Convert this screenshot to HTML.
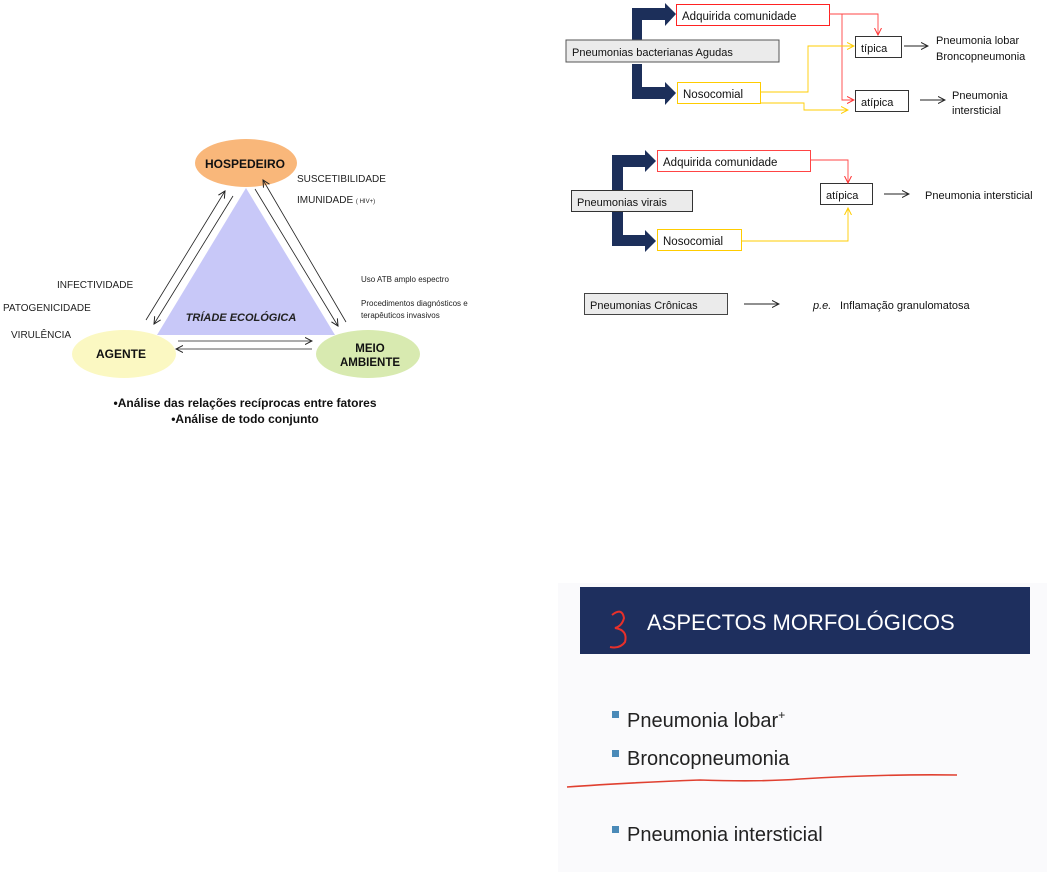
<!DOCTYPE html>
<html><head><meta charset="utf-8"><style>
html,body{margin:0;padding:0;background:#fff;width:1047px;height:872px;overflow:hidden}
svg{display:block}
text{font-family:"Liberation Sans",sans-serif}
</style></head><body>
<svg width="1047" height="872" viewBox="0 0 1047 872" xmlns="http://www.w3.org/2000/svg">
<defs>
<marker id="ab" markerWidth="8" markerHeight="8" refX="7" refY="4" orient="auto" markerUnits="userSpaceOnUse"><path d="M0,0.5 L7,4 L0,7.5" fill="none" stroke="#222" stroke-width="1"/></marker>
<marker id="ar" markerWidth="8" markerHeight="8" refX="7" refY="4" orient="auto" markerUnits="userSpaceOnUse"><path d="M0,0.5 L7,4 L0,7.5" fill="none" stroke="#f33" stroke-width="1"/></marker>
<marker id="ay" markerWidth="8" markerHeight="8" refX="7" refY="4" orient="auto" markerUnits="userSpaceOnUse"><path d="M0,0.5 L7,4 L0,7.5" fill="none" stroke="#fc0" stroke-width="1"/></marker>
</defs>

<!-- Left triad -->
<polygon points="246,188 157,335 335,335" fill="#c8c8f8"/>
<ellipse cx="246" cy="163" rx="51" ry="24" fill="#f9b77a"/>
<ellipse cx="124" cy="354" rx="52" ry="24" fill="#fbf8c2"/>
<ellipse cx="368" cy="354" rx="52" ry="24" fill="#d8eab0"/>
<text x="245" y="168" font-size="12" font-weight="bold" text-anchor="middle" fill="#111">HOSPEDEIRO</text>
<text x="121" y="358" font-size="12" font-weight="bold" text-anchor="middle" fill="#111">AGENTE</text>
<text x="370" y="352" font-size="11.5" font-weight="bold" text-anchor="middle" fill="#111">MEIO</text>
<text x="370" y="366" font-size="11.5" font-weight="bold" text-anchor="middle" fill="#111">AMBIENTE</text>
<text x="241" y="321" font-size="11" font-weight="bold" font-style="italic" text-anchor="middle" fill="#222">TRÍADE ECOLÓGICA</text>
<text x="297" y="182" font-size="10" fill="#222">SUSCETIBILIDADE</text>
<text x="297" y="203" font-size="10" fill="#222">IMUNIDADE <tspan font-size="6">( HIV+)</tspan></text>
<text x="57" y="288" font-size="10" fill="#222">INFECTIVIDADE</text>
<text x="3" y="311" font-size="10" fill="#222">PATOGENICIDADE</text>
<text x="11" y="338" font-size="10" fill="#222">VIRULÊNCIA</text>
<text x="361" y="282" font-size="8" fill="#222">Uso ATB amplo espectro</text>
<text x="361" y="306" font-size="8" fill="#222">Procedimentos  diagnósticos e</text>
<text x="361" y="318" font-size="8" fill="#222">terapêuticos invasivos</text>
<g stroke="#222" stroke-width="0.8" fill="none">
<line x1="146" y1="320" x2="225" y2="191" marker-end="url(#ab)"/>
<line x1="233" y1="196" x2="154" y2="324" marker-end="url(#ab)"/>
<line x1="255" y1="189" x2="338" y2="326" marker-end="url(#ab)"/>
<line x1="346" y1="322" x2="263" y2="180" marker-end="url(#ab)"/>
<line x1="178" y1="341" x2="312" y2="341" marker-end="url(#ab)"/>
<line x1="312" y1="349" x2="176" y2="349" marker-end="url(#ab)"/>
</g>
<text x="245" y="407" font-size="12" font-weight="bold" text-anchor="middle" fill="#111">•Análise das relações recíprocas entre fatores</text>
<text x="245" y="423" font-size="12" font-weight="bold" text-anchor="middle" fill="#111">•Análise de todo conjunto</text>

<!-- Top right: bacterial -->
<path d="M632,40 L632,8 L665,8 L665,3 L676,14 L665,26 L665,20 L642,20 L642,40 Z" fill="#1c2f5a"/>
<path d="M632,64 L632,99 L665,99 L665,105 L676,93 L665,82 L665,87 L642,87 L642,64 Z" fill="#1c2f5a"/>
<rect x="566" y="40" width="213" height="22" fill="#ebebeb" stroke="#555" stroke-width="1"/>
<text x="572" y="56" font-size="11" fill="#111">Pneumonias bacterianas Agudas</text>
<rect x="676.5" y="4.5" width="153" height="21" fill="#fff" stroke="#f22" stroke-width="1"/>
<text x="682" y="20" font-size="11.5" fill="#111">Adquirida comunidade</text>
<rect x="677.5" y="82.5" width="83" height="21" fill="#fff" stroke="#fc0" stroke-width="1"/>
<text x="683" y="98" font-size="11.5" fill="#111">Nosocomial</text>
<rect x="855.5" y="36.5" width="46" height="21" fill="#fff" stroke="#333" stroke-width="1"/>
<text x="861" y="52" font-size="11" fill="#111">típica</text>
<rect x="855.5" y="90.5" width="53" height="21" fill="#fff" stroke="#333" stroke-width="1"/>
<text x="861" y="106" font-size="11" fill="#111">atípica</text>
<g fill="none" stroke-width="0.9">
<polyline points="829,14 878,14 878,35" stroke="#f44" marker-end="url(#ar)"/>
<polyline points="842,14 842,100 854,100" stroke="#f44" marker-end="url(#ar)"/>
<polyline points="760,92 808,92 808,46 854,46" stroke="#fc0" marker-end="url(#ay)"/>
<polyline points="760,103 804,103 804,110 848,110" stroke="#fc0" marker-end="url(#ay)"/>
<line x1="904" y1="46" x2="928" y2="46" stroke="#222" marker-end="url(#ab)"/>
<line x1="920" y1="100" x2="945" y2="100" stroke="#222" marker-end="url(#ab)"/>
</g>
<text x="936" y="44" font-size="11" fill="#111">Pneumonia lobar</text>
<text x="936" y="60" font-size="11" fill="#111">Broncopneumonia</text>
<text x="952" y="99" font-size="11" fill="#111">Pneumonia</text>
<text x="952" y="114" font-size="11" fill="#111">intersticial</text>

<!-- Viral -->
<path d="M612,190 L612,155 L645,155 L645,150 L656,161 L645,172 L645,167 L623,167 L623,190 Z" fill="#1c2f5a"/>
<path d="M612,212 L612,246 L645,246 L645,252 L656,241 L645,230 L645,235 L623,235 L623,212 Z" fill="#1c2f5a"/>
<rect x="571.5" y="190.5" width="121" height="21" fill="#ebebeb" stroke="#333" stroke-width="1"/>
<text x="577" y="206" font-size="11" fill="#111">Pneumonias virais</text>
<rect x="657.5" y="150.5" width="153" height="21" fill="#fff" stroke="#f44" stroke-width="1"/>
<text x="663" y="166" font-size="11.5" fill="#111">Adquirida comunidade</text>
<rect x="657.5" y="229.5" width="84" height="21" fill="#fff" stroke="#fc0" stroke-width="1"/>
<text x="663" y="245" font-size="11.5" fill="#111">Nosocomial</text>
<rect x="820.5" y="183.5" width="52" height="21" fill="#fff" stroke="#333" stroke-width="1"/>
<text x="826" y="199" font-size="11" fill="#111">atípica</text>
<g fill="none" stroke-width="0.9">
<polyline points="810,160 848,160 848,183" stroke="#f44" marker-end="url(#ar)"/>
<polyline points="741,241 848,241 848,208" stroke="#fc0" marker-end="url(#ay)"/>
<line x1="884" y1="194" x2="909" y2="194" stroke="#222" marker-end="url(#ab)"/>
<line x1="744" y1="304" x2="779" y2="304" stroke="#222" marker-end="url(#ab)"/>
</g>
<text x="925" y="199" font-size="11" fill="#111">Pneumonia intersticial</text>
<rect x="584.5" y="293.5" width="143" height="21" fill="#ebebeb" stroke="#444" stroke-width="1"/>
<text x="590" y="309" font-size="11" fill="#111">Pneumonias Crônicas</text>
<text x="813" y="309" font-size="11" font-style="italic" fill="#111">p.e.</text>
<text x="840" y="309" font-size="11" fill="#111">Inflamação granulomatosa</text>

<!-- Bottom right slide -->
<rect x="558" y="583" width="489" height="289" fill="#fafafc"/>
<rect x="580" y="587" width="450" height="67" fill="#1e2f5e"/>
<path d="M612,615 Q622,607 624,618 Q622,626 615,628 Q628,630 625,642 Q620,649 610,647" fill="none" stroke="#e8302a" stroke-width="2"/>
<text x="647" y="630" font-size="22" fill="#fff">ASPECTOS MORFOLÓGICOS</text>
<rect x="612" y="711" width="7" height="7" fill="#4a8ab8"/>
<text x="627" y="727" font-size="20" fill="#222">Pneumonia lobar<tspan font-size="12" dy="-8">+</tspan></text>
<rect x="612" y="750" width="7" height="7" fill="#4a8ab8"/>
<text x="627" y="765" font-size="20" fill="#222">Broncopneumonia</text>
<path d="M567,787 Q620,783 700,780 Q760,782 800,779 Q880,774 957,775" fill="none" stroke="#e04030" stroke-width="1.6"/>
<rect x="612" y="826" width="7" height="7" fill="#4a8ab8"/>
<text x="627" y="841" font-size="20" fill="#222">Pneumonia intersticial</text>
</svg>
</body></html>
